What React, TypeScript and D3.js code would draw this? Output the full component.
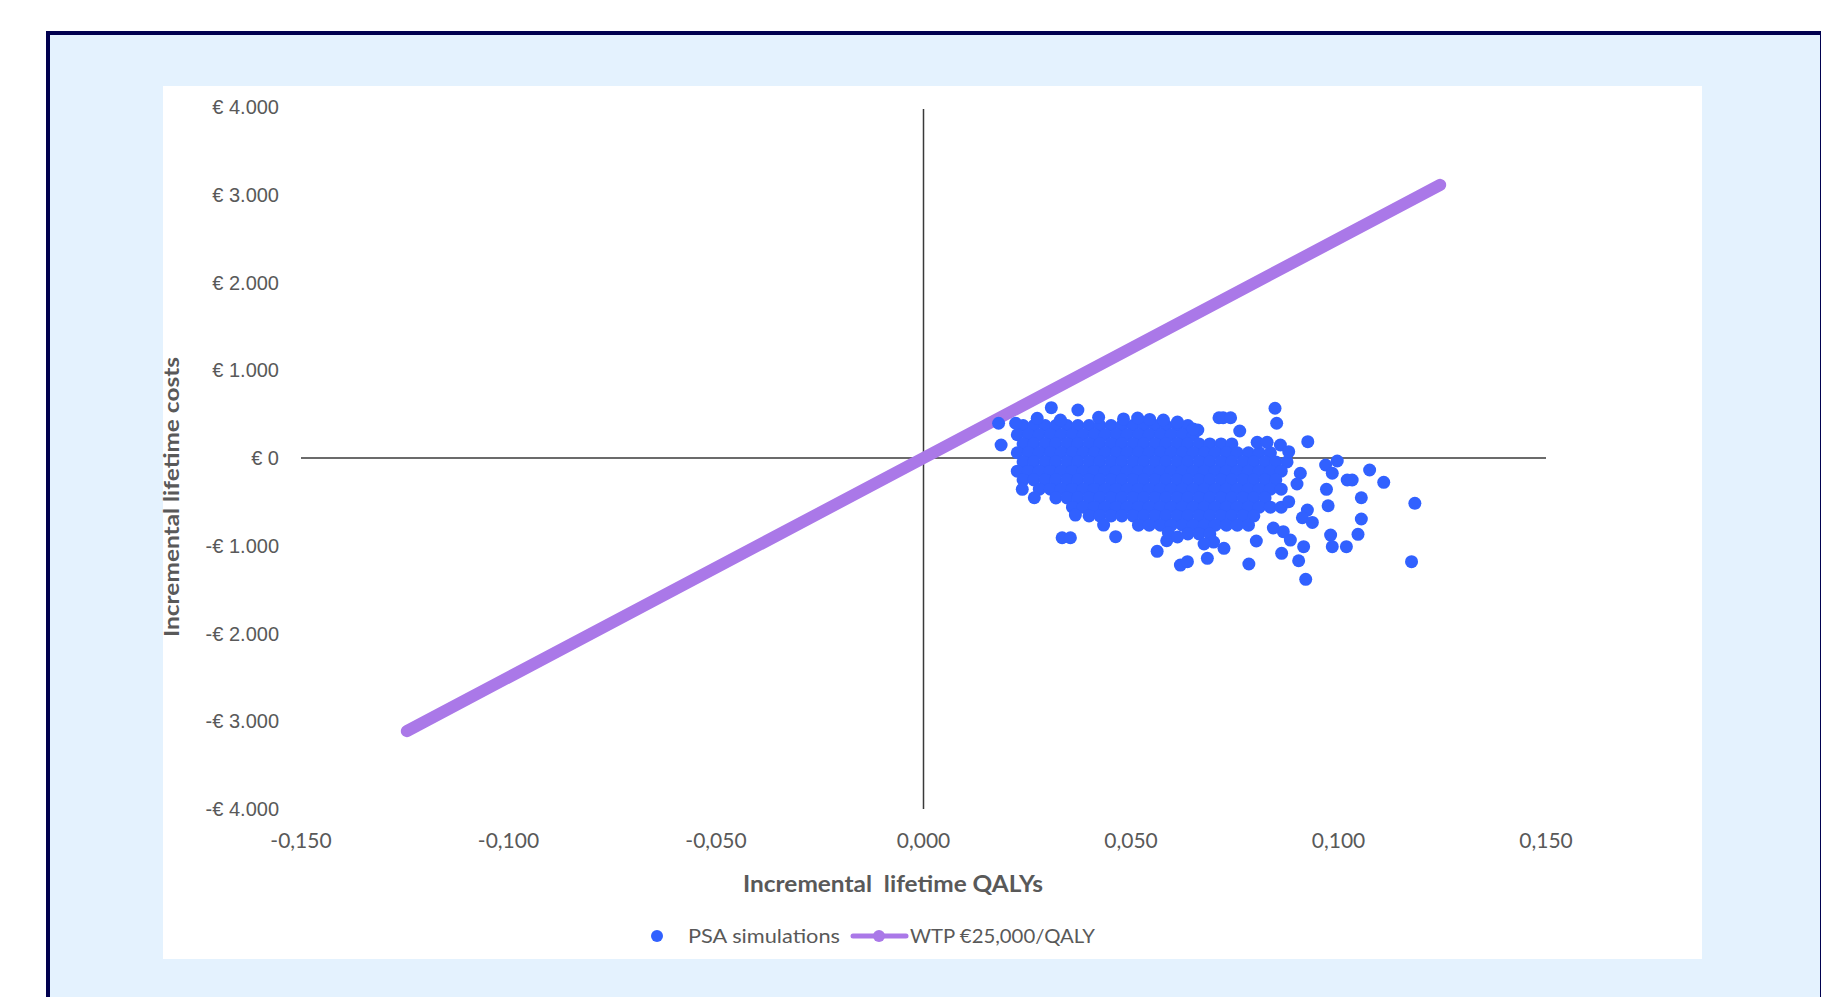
import * as d3 from 'd3';

// WTP threshold line (QALY range and the €25,000/QALY slope)
const wtpQaly = [-0.1245, 0.1245];
const wtpPerQaly = 25000;

// dense core of the PSA cloud, read row by row (cost per row, QALYs in that row)
const coreCost = [370, 265, 160, 60, -45, -150, -250, -355, -455, -560, -660, -765, -865];
const coreQaly: number[][] = [
    [0.0240, 0.0266, 0.0293, 0.0319, 0.0346, 0.0372, 0.0399, 0.0425, 0.0452, 0.0478, 0.0505, 0.0531, 0.0558, 0.0584, 0.0611, 0.0637],
    [0.0226, 0.0253, 0.0279, 0.0306, 0.0332, 0.0359, 0.0385, 0.0412, 0.0438, 0.0465, 0.0491, 0.0518, 0.0544, 0.0571, 0.0597, 0.0624, 0.0650],
    [0.0240, 0.0266, 0.0293, 0.0319, 0.0346, 0.0372, 0.0399, 0.0425, 0.0452, 0.0478, 0.0505, 0.0531, 0.0558, 0.0584, 0.0611, 0.0637, 0.0664, 0.0690, 0.0717, 0.0743],
    [0.0226, 0.0253, 0.0279, 0.0306, 0.0332, 0.0359, 0.0385, 0.0412, 0.0438, 0.0465, 0.0491, 0.0518, 0.0544, 0.0571, 0.0597, 0.0624, 0.0650, 0.0677, 0.0703, 0.0730, 0.0756, 0.0783, 0.0809, 0.0836],
    [0.0240, 0.0266, 0.0293, 0.0319, 0.0346, 0.0372, 0.0399, 0.0425, 0.0452, 0.0478, 0.0505, 0.0531, 0.0558, 0.0584, 0.0611, 0.0637, 0.0664, 0.0690, 0.0717, 0.0743, 0.0770, 0.0796, 0.0823, 0.0849, 0.0876],
    [0.0226, 0.0253, 0.0279, 0.0306, 0.0332, 0.0359, 0.0385, 0.0412, 0.0438, 0.0465, 0.0491, 0.0518, 0.0544, 0.0571, 0.0597, 0.0624, 0.0650, 0.0677, 0.0703, 0.0730, 0.0756, 0.0783, 0.0809, 0.0836, 0.0862],
    [0.0240, 0.0266, 0.0293, 0.0319, 0.0346, 0.0372, 0.0399, 0.0425, 0.0452, 0.0478, 0.0505, 0.0531, 0.0558, 0.0584, 0.0611, 0.0637, 0.0664, 0.0690, 0.0717, 0.0743, 0.0770, 0.0796, 0.0823, 0.0849],
    [0.0279, 0.0306, 0.0332, 0.0359, 0.0385, 0.0412, 0.0438, 0.0465, 0.0491, 0.0518, 0.0544, 0.0571, 0.0597, 0.0624, 0.0650, 0.0677, 0.0703, 0.0730, 0.0756, 0.0783, 0.0809, 0.0836, 0.0862],
    [0.0319, 0.0346, 0.0372, 0.0399, 0.0425, 0.0452, 0.0478, 0.0505, 0.0531, 0.0558, 0.0584, 0.0611, 0.0637, 0.0664, 0.0690, 0.0717, 0.0743, 0.0770, 0.0796, 0.0823],
    [0.0359, 0.0385, 0.0412, 0.0438, 0.0465, 0.0491, 0.0518, 0.0544, 0.0571, 0.0597, 0.0624, 0.0650, 0.0677, 0.0703, 0.0730, 0.0756, 0.0783, 0.0809, 0.0836, 0.0862],
    [0.0399, 0.0425, 0.0452, 0.0478, 0.0505, 0.0531, 0.0558, 0.0584, 0.0611, 0.0637, 0.0664, 0.0690, 0.0717, 0.0743, 0.0770, 0.0796],
    [0.0518, 0.0544, 0.0571, 0.0597, 0.0624, 0.0650, 0.0677, 0.0703, 0.0730, 0.0756, 0.0783],
    [0.0637, 0.0664, 0.0690],
];

// the loose simulations around the core
const looseQaly = [
    0.0181, 0.0222, 0.0187, 0.0308, 0.0372, 0.0422, 0.0238, 0.0267, 0.0334, 0.0354,
    0.0366, 0.0434, 0.0463, 0.0563, 0.0586, 0.0619, 0.0636, 0.0684, 0.0661, 0.0712,
    0.0722, 0.0740, 0.0762, 0.0847, 0.0851, 0.0926, 0.0804, 0.0828, 0.0860, 0.0880,
    0.0908, 0.0900, 0.0969, 0.0997, 0.0985, 0.1021, 0.1033, 0.1075, 0.1109, 0.0971,
    0.0975, 0.1055, 0.1184, 0.1055, 0.1047, 0.0981, 0.0985, 0.1019, 0.0925, 0.0913,
    0.0937, 0.0916, 0.0904, 0.0921, 0.0863, 0.0802, 0.0784, 0.0884, 0.0867, 0.0724,
    0.1176, 0.0843, 0.0880, 0.0699, 0.0274, 0.0330, 0.0482, 0.0516, 0.0545, 0.0578,
    0.0612, 0.0650, 0.0590, 0.0612, 0.0676,
];
const looseCost = [
    396, 396, 148, 573, 547, 464, -357, -453, -909, -909,
    -650, -764, -897, -1064, -943, -1220, -1182, -1143, 319, 459,
    459, 459, 308, 567, 396, 186, 179, 179, 148, 72,
    -174, -296, -80, -34, -174, -251, -251, -137, -277, -357,
    -544, -453, -516, -695, -870, -878, -1011, -1011, -593, -681,
    -734, -1011, -1171, -1383, -1086, -946, -1208, -935, -840, -1029,
    -1182, -798, -498, -958, 453, 433, 445, 456, 440, 433,
    410, 330, -850, -900, -980,
];

const BLUE = '#3161FF';
const PURPLE = '#AA78E8';
const GREY = '#595959';

const x = d3.scaleLinear().domain([-0.15, 0.15]).range([301, 1546]);
const y = d3.scaleLinear().domain([-4000, 4000]).range([809, 107]);

const fmtY = (v: number) => (v < 0 ? '-' : '') + '€ ' + d3.format(',')(Math.abs(v)).replace(/,/g, '.');
const fmtX = (v: number) => (v < 0 ? '-' : '') + Math.abs(v).toFixed(3).replace('.', ',');

const App = () => {
    const points = [
        ...coreCost.flatMap((c, i) => coreQaly[i].map(q => ({ q, c }))),
        ...looseQaly.map((q, i) => ({ q, c: looseCost[i] })),
    ];
    const wtpLine = d3.line<number>().x(q => x(q)).y(q => y(q * wtpPerQaly))(wtpQaly) || '';

    return (
        <svg width={1821} height={997} style={{ position: 'absolute', left: 0, top: 0 }}>
            <rect x={0} y={0} width={1821} height={997} fill="#ffffff" />
            <rect x={48} y={33} width={1774} height={1000} fill="#E4F2FE" stroke="#00004F" strokeWidth={4} />
            <rect x={163} y={86} width={1539} height={873} fill="#ffffff" />

            {/* axes through the origin */}
            <line x1={x(0)} x2={x(0)} y1={y(4000) + 2} y2={y(-4000)} stroke="#3a3a3a" strokeWidth={1.5} />
            <line x1={x(-0.15)} x2={x(0.15)} y1={y(0)} y2={y(0)} stroke="#3a3a3a" strokeWidth={1.5} />

            {y.ticks(8).map(t => (
                <text key={t} x={279} y={y(t)} dy="0.35em" textAnchor="end" fontFamily="Liberation Sans, Arial, sans-serif" fontSize={20} fill={GREY}>{fmtY(t)}</text>
            ))}
            {x.ticks(6).map(t => (
                <text key={t} x={x(t)} y={848} textAnchor="middle" fontFamily="Lato, sans-serif" fontSize={21} fill={GREY}>{fmtX(t)}</text>
            ))}

            <path d={wtpLine} stroke={PURPLE} strokeWidth={12} strokeLinecap="round" fill="none" />

            {points.map((p, i) => (
                <circle key={i} cx={x(p.q)} cy={y(p.c)} r={6.5} fill={BLUE} />
            ))}

            {/* axis titles */}
            <text x={893} y={892} textAnchor="middle" fontFamily="Lato, sans-serif" fontWeight="bold" fontSize={22} fill={GREY}
                textLength={300} lengthAdjust="spacingAndGlyphs" style={{ whiteSpace: 'pre' }}>Incremental  lifetime QALYs</text>
            <text transform="translate(179,497) rotate(-90)" textAnchor="middle" fontFamily="Lato, sans-serif" fontWeight="bold" fontSize={21} fill={GREY}
                textLength={280} lengthAdjust="spacingAndGlyphs">Incremental lifetime costs</text>

            {/* legend */}
            <circle cx={657} cy={936} r={6} fill={BLUE} />
            <text x={688} y={943} fontFamily="Lato, sans-serif" fontSize={20} fill={GREY} textLength={152} lengthAdjust="spacingAndGlyphs">PSA simulations</text>
            <line x1={853} x2={906} y1={936} y2={936} stroke={PURPLE} strokeWidth={5} strokeLinecap="round" />
            <circle cx={879} cy={936} r={6} fill={PURPLE} />
            <text x={910} y={943} fontFamily="Lato, sans-serif" fontSize={20} fill={GREY} textLength={185} lengthAdjust="spacingAndGlyphs">WTP €25,000/QALY</text>
        </svg>
    );
};

export default App;
